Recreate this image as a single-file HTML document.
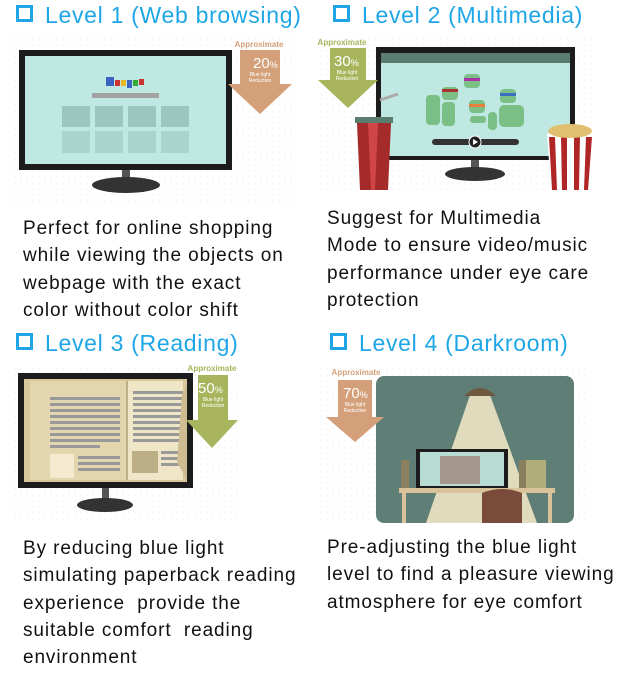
<!DOCTYPE html>
<html><head><meta charset="utf-8"><style>
html,body{margin:0;padding:0;background:#fff;width:619px;height:684px;overflow:hidden;position:relative;font-family:"Liberation Sans",sans-serif}
.t{position:absolute;color:#1ea6e6;font-size:23px;white-space:nowrap;line-height:26px;letter-spacing:0.7px}
.t b{display:inline-block;width:11px;height:11px;border:3px solid #1ea6e6;margin-right:12px;vertical-align:1px}
.p{position:absolute;color:#111;font-size:19px;letter-spacing:0.9px;line-height:27.3px;white-space:nowrap}
svg{position:absolute;left:0;top:0}
</style></head><body>
<svg width="619" height="684" viewBox="0 0 619 684">
<defs><pattern id="d" width="6" height="6" patternUnits="userSpaceOnUse"><circle cx="3" cy="3" r="0.7" fill="#eee"/></pattern></defs>
<rect x="12" y="38" width="282" height="168" fill="url(#d)"/>
<rect x="318" y="34" width="278" height="160" fill="url(#d)"/>
<rect x="10" y="364" width="232" height="155" fill="url(#d)"/>
<rect x="318" y="364" width="270" height="160" fill="url(#d)"/>
<!-- L1 -->
<rect x="19" y="50" width="213" height="120" fill="#1c1c1c"/>
<rect x="25" y="56" width="201" height="108" fill="#c0e8e2"/>
<rect x="106" y="77" width="8" height="9" fill="#3b63c4"/><rect x="115" y="80" width="5" height="6" fill="#c33"/><rect x="121" y="80" width="5" height="6" fill="#e8b820"/><rect x="127" y="80" width="5" height="8" fill="#3b63c4"/><rect x="133" y="80" width="5" height="6" fill="#3a3"/><rect x="139" y="79" width="5" height="6" fill="#c33"/>
<rect x="92" y="93" width="67" height="5" fill="#a3a3a3"/>
<g fill="#9cc5bd"><rect x="62" y="106" width="28" height="21"/><rect x="95" y="106" width="28" height="21"/><rect x="128" y="106" width="28" height="21"/><rect x="161" y="106" width="28" height="21"/></g>
<g fill="#a9d4cc"><rect x="62" y="131" width="28" height="22"/><rect x="95" y="131" width="28" height="22"/><rect x="128" y="131" width="28" height="22"/><rect x="161" y="131" width="28" height="22"/></g>
<rect x="122" y="170" width="8" height="10" fill="#555"/><ellipse cx="126" cy="185" rx="34" ry="8" fill="#333"/>
<text x="259" y="47" font-size="8" fill="#d4a07a" text-anchor="middle" font-weight="bold">Approximate</text>
<path d="M240 50h40v34h12l-32 30l-32-30h12z" fill="#d4a07a"/>
<text x="253" y="68" font-size="15" fill="#fff">20<tspan font-size="9">%</tspan></text>
<text x="260" y="76" font-size="5" fill="#fff" text-anchor="middle">Blue light</text><text x="260" y="82" font-size="5" fill="#fff" text-anchor="middle">Reduction</text>
<!-- L2 -->
<rect x="376" y="47" width="199" height="113" fill="#1c1c1c"/>
<rect x="381" y="53" width="189" height="103" fill="#c0e8e2"/>
<rect x="381" y="53" width="189" height="10" fill="#5a7d70"/>
<g fill="#7abf86"><rect x="426" y="95" width="14" height="30" rx="4"/><rect x="442" y="102" width="13" height="24" rx="4"/><rect x="442" y="87" width="16" height="13" rx="4"/><rect x="464" y="74" width="16" height="14" rx="4"/><rect x="469" y="100" width="16" height="13" rx="4"/><rect x="470" y="116" width="16" height="7" rx="3"/><rect x="488" y="112" width="9" height="18" rx="4"/><rect x="499" y="105" width="25" height="22" rx="5"/><rect x="500" y="89" width="16" height="14" rx="4"/></g>
<rect x="442" y="89" width="16" height="3" fill="#a33"/><rect x="464" y="78" width="16" height="3" fill="#a3a"/><rect x="469" y="104" width="16" height="3" fill="#e77f3a"/><rect x="500" y="93" width="16" height="3" fill="#3a6ec0"/>
<rect x="432" y="139" width="87" height="6" rx="3" fill="#333"/><circle cx="475" cy="142" r="6" fill="#222" stroke="#fff" stroke-width="1"/><path d="M473 139l5 3l-5 3z" fill="#fff"/>
<rect x="471" y="160" width="8" height="9" fill="#555"/><ellipse cx="475" cy="174" rx="30" ry="7" fill="#333"/>
<path d="M380 100l18-6" stroke="#aaa" stroke-width="3"/>
<rect x="355" y="117" width="38" height="6" fill="#5a7d70"/>
<path d="M357 123h34l-3 67h-28z" fill="#a52a2a"/><path d="M368 123h10l-3 67h-4z" fill="#d04545"/>
<path d="M547 134q23-12 46 0l-4 56h-38z" fill="#fff"/>
<g fill="#b02525"><path d="M549 137h6l2 53h-5z"/><path d="M561 136h6l0 54h-5z"/><path d="M574 136h6l-1 54h-5z"/><path d="M586 137h6l-4 53h-4z"/></g>
<ellipse cx="570" cy="131" rx="22" ry="7" fill="#e0c070"/>
<text x="342" y="45" font-size="8" fill="#a9b55c" text-anchor="middle" font-weight="bold">Approximate</text>
<path d="M330 48h36v32h12l-30 28l-30-28h12z" fill="#a9b55c"/>
<text x="334" y="66" font-size="15" fill="#fff">30<tspan font-size="9">%</tspan></text>
<text x="347" y="74" font-size="5" fill="#fff" text-anchor="middle">Blue light</text><text x="347" y="80" font-size="5" fill="#fff" text-anchor="middle">Reduction</text>
<!-- L3 -->
<rect x="18" y="373" width="175" height="115" fill="#1c1c1c"/>
<rect x="24" y="379" width="163" height="103" fill="#d8c79a"/>
<rect x="30" y="381" width="96" height="99" fill="#e3d6ae"/><rect x="128" y="381" width="55" height="99" fill="#efe6c8"/>
<line x1="127" y1="381" x2="127" y2="480" stroke="#a79a70"/>
<g fill="#999"><rect x="50" y="397" width="70" height="3"/><rect x="50" y="403" width="70" height="3"/><rect x="50" y="409" width="70" height="3"/><rect x="50" y="415" width="70" height="3"/><rect x="50" y="421" width="70" height="3"/><rect x="50" y="427" width="70" height="3"/><rect x="50" y="433" width="70" height="3"/><rect x="50" y="439" width="70" height="3"/><rect x="50" y="445" width="50" height="3"/>
<rect x="78" y="456" width="42" height="3"/><rect x="78" y="462" width="42" height="3"/><rect x="78" y="468" width="42" height="3"/>
<rect x="133" y="391" width="50" height="3"/><rect x="133" y="397" width="50" height="3"/><rect x="133" y="403" width="50" height="3"/><rect x="133" y="409" width="50" height="3"/><rect x="133" y="415" width="50" height="3"/><rect x="133" y="421" width="50" height="3"/><rect x="133" y="427" width="50" height="3"/><rect x="133" y="433" width="50" height="3"/><rect x="133" y="439" width="50" height="3"/><rect x="161" y="451" width="22" height="3"/><rect x="161" y="457" width="22" height="3"/><rect x="161" y="463" width="22" height="3"/></g>
<rect x="50" y="454" width="24" height="24" fill="#f3ead0"/>
<rect x="132" y="451" width="26" height="22" fill="#bdaf85"/>
<path d="M182 395l5-10v95l-10-18z" fill="#cdbd90"/>
<rect x="102" y="488" width="7" height="12" fill="#555"/><ellipse cx="105" cy="505" rx="28" ry="7" fill="#333"/>
<text x="212" y="371" font-size="8" fill="#a9b55c" text-anchor="middle" font-weight="bold">Approximate</text>
<path d="M198 375h30v45h10l-26 28l-26-28h12z" fill="#a9b55c"/>
<text x="198" y="393" font-size="15" fill="#fff">50<tspan font-size="9">%</tspan></text>
<text x="213" y="401" font-size="5" fill="#fff" text-anchor="middle">Blue light</text><text x="213" y="407" font-size="5" fill="#fff" text-anchor="middle">Reduction</text>
<!-- L4 -->
<rect x="376" y="376" width="198" height="147" rx="8" fill="#5f7f76"/>
<path d="M470 395h20l47 128h-111z" fill="#f0e6c6" opacity=".9"/>
<path d="M464 396q16-16 32 0z" fill="#6e5940"/>
<rect x="416" y="449" width="92" height="40" fill="#1c1c1c"/><rect x="420" y="452" width="84" height="34" fill="#b8dcd4"/>
<g fill="#a07a72"><rect x="440" y="456" width="40" height="28" opacity=".7"/></g>
<rect x="450" y="489" width="20" height="4" fill="#333"/>
<rect x="399" y="488" width="156" height="5" fill="#d8c39a"/>
<rect x="402" y="493" width="4" height="30" fill="#d8c39a"/><rect x="548" y="493" width="4" height="30" fill="#d8c39a"/>
<rect x="401" y="460" width="8" height="28" fill="#8a8060"/><rect x="519" y="460" width="8" height="28" fill="#8a8060"/>
<rect x="526" y="460" width="20" height="28" fill="#b0ae7a"/>
<path d="M482 523v-30q20-8 40 0v30z" fill="#7a4a3a"/>
<text x="356" y="375" font-size="8" fill="#d4a07a" text-anchor="middle" font-weight="bold">Approximate</text>
<path d="M338 380h34v37h12l-29 25l-29-25h12z" fill="#d4a07a"/>
<text x="343" y="398" font-size="15" fill="#fff">70<tspan font-size="9">%</tspan></text>
<text x="355" y="406" font-size="5" fill="#fff" text-anchor="middle">Blue light</text><text x="355" y="412" font-size="5" fill="#fff" text-anchor="middle">Reduction</text>
</svg>
<div class="t" style="left:16px;top:2px"><b></b>Level 1 (Web browsing)</div>
<div class="t" style="left:333px;top:2px"><b></b>Level 2 (Multimedia)</div>
<div class="t" style="left:16px;top:330px"><b></b>Level 3 (Reading)</div>
<div class="t" style="left:330px;top:330px"><b></b>Level 4 (Darkroom)</div>
<div class="p" style="left:23px;top:215px">Perfect for online shopping<br>while viewing the objects on<br>webpage with the exact<br>color without color shift</div>
<div class="p" style="left:327px;top:205px">Suggest for Multimedia<br>Mode to ensure video/music<br>performance under eye care<br>protection</div>
<div class="p" style="left:23px;top:535px">By reducing blue light<br>simulating paperback reading<br>experience&nbsp; provide the<br>suitable comfort&nbsp; reading<br>environment</div>
<div class="p" style="left:327px;top:534px">Pre-adjusting the blue light<br>level to find a pleasure viewing<br>atmosphere for eye comfort</div>
</body></html>
